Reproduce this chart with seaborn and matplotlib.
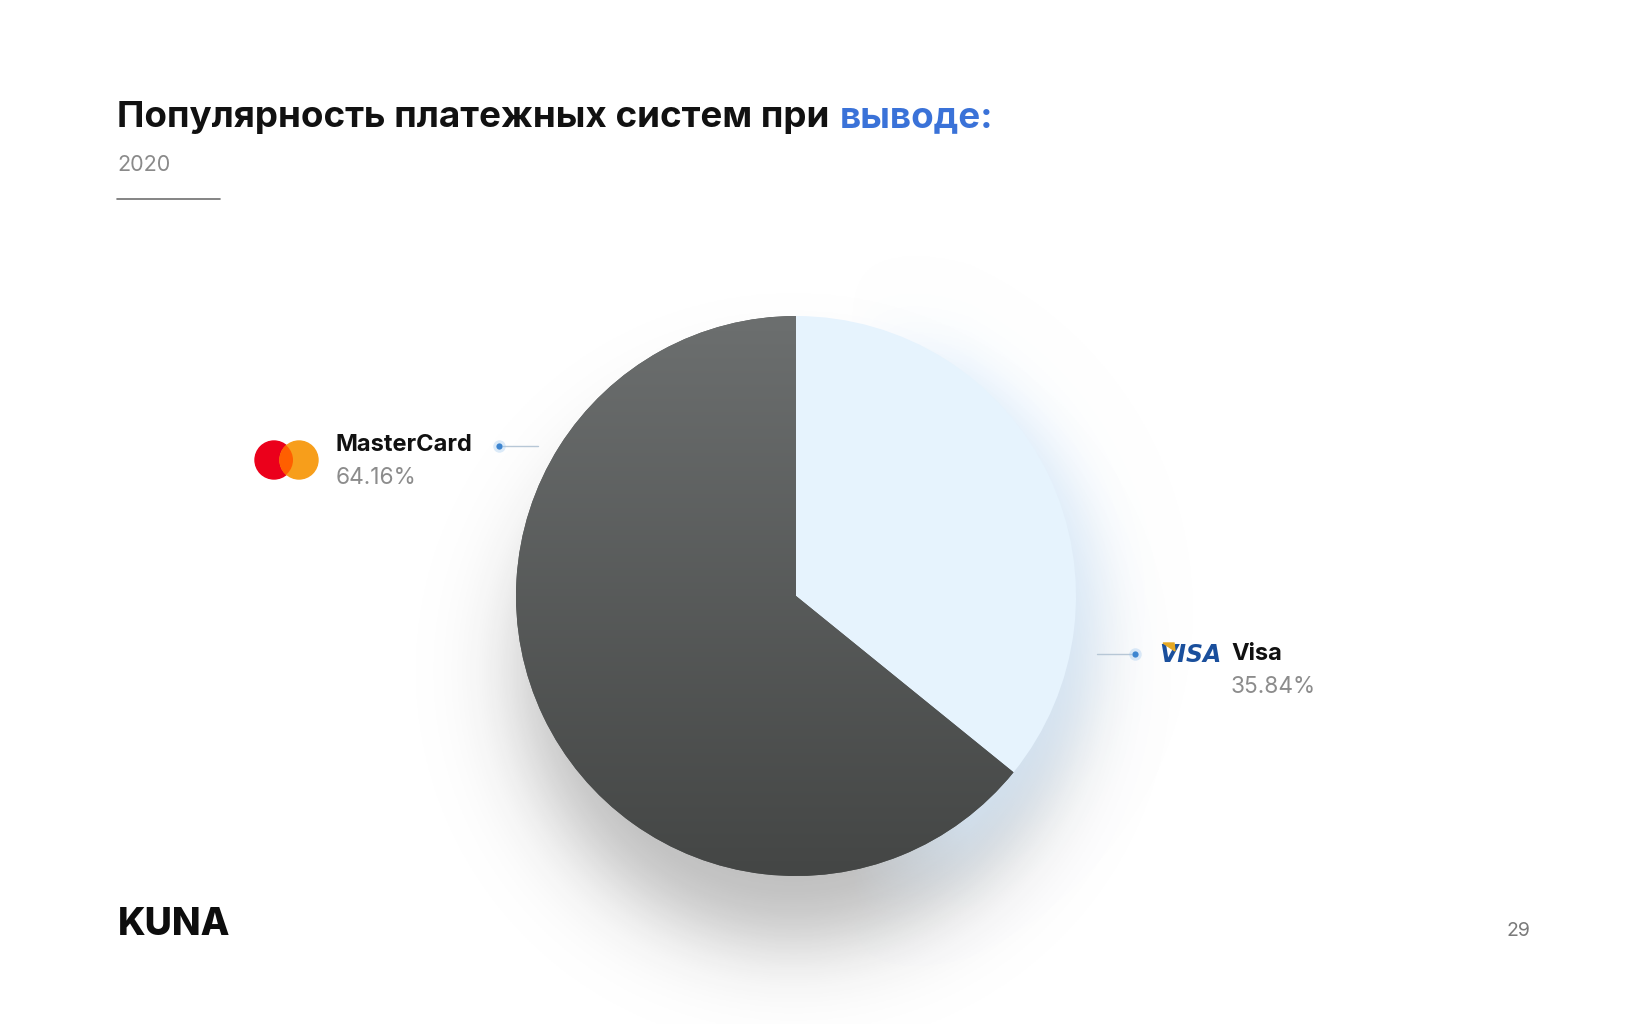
import numpy as np
import matplotlib
matplotlib.use("Agg")
import matplotlib.pyplot as plt
import seaborn as sns
from matplotlib.colors import LinearSegmentedColormap
from matplotlib.patches import Circle, Polygon

# data
labels = ["Visa", "MasterCard"]
shares = [35.84, 64.16]
slice_colors = ["#e6f3fd", "#5a5d5c"]
title_main = "Популярность платежных систем при"
title_accent = "выводе:"
year = "2020"
brand = "KUNA"
page = "29"

W, H = 1631, 1024
sns.set_theme(style="white")
plt.rcParams['font.family'] = ['Inter', 'DejaVu Sans']

fig = plt.figure(figsize=(W / 100, H / 100), dpi=100)
ax = fig.add_axes([0, 0, 1, 1])


def Y(y):
    return H - y


cx, cy, R = 796, Y(596), 280

# soft shadow + blue glow behind the pie
step = 2
gx, gy = np.meshgrid(np.arange(0, W, step), np.arange(0, H, step))
d = np.hypot(gx - 793, gy - 670)
a = 0.30 / (1 + np.exp((d - 270) / 25))
shadow = np.zeros(gx.shape + (4,))
shadow[..., :3] = 0.12
shadow[..., 3] = a
ax.imshow(shadow, extent=(0, W, 0, H), aspect='auto', zorder=0)

d2 = np.hypot(gx - 812, gy - 610)
b = 0.85 / (1 + np.exp((d2 - 284) / 18)) * np.clip((gx - 850) / 120, 0, 1)
glow = np.zeros(gx.shape + (4,))
glow[..., 0], glow[..., 1], glow[..., 2] = 0.84, 0.92, 0.995
glow[..., 3] = b
ax.imshow(glow, extent=(0, W, 0, H), aspect='auto', zorder=1)

wedges, _ = ax.pie(shares, startangle=90, counterclock=False,
                   colors=slice_colors, center=(cx, cy), radius=R,
                   wedgeprops=dict(linewidth=0))
for w in wedges:
    w.set_zorder(2)

# gradient on the dark slice
cmap = LinearSegmentedColormap.from_list("g", ["#6c6f6f", "#444645"])
grad = np.linspace(0, 1, 256).reshape(-1, 1)
im = ax.imshow(grad, extent=(cx - R, cx + R, cy - R, cy + R), cmap=cmap,
               aspect='auto', zorder=3)
im.set_clip_path(wedges[1])

ax.set_xlim(0, W)
ax.set_ylim(0, H)
ax.axis('off')

# title
t1 = ax.text(117, Y(127), title_main, fontsize=26.5, fontweight='bold',
             color='#111111', va='baseline')
fig.canvas.draw()
bb = t1.get_window_extent()
x_acc = ax.transData.inverted().transform((bb.x1, 0))[0]
ax.text(x_acc + 10, Y(127), title_accent, fontsize=26.5, fontweight='bold',
        color='#3a72d8', va='baseline')
ax.text(117, Y(165), year, fontsize=15.5, color='#8a8a8a', va='center')
ax.plot([117, 220], [Y(199), Y(199)], color='#707070', lw=1.2)

# labels
lab_pos = {"MasterCard": (336, 445), "Visa": (1231, 654)}
for name, s in zip(labels, shares):
    x, y = lab_pos[name]
    ax.text(x, Y(y), name, fontsize=17, fontweight='bold', color='#111111',
            va='center')
    ax.text(x, Y(y + 33), f"{s:.2f}%", fontsize=16.3, color='#8c8c8c',
            va='center')

# leader lines and dots
ax.plot([503, 538], [Y(446), Y(446)], color='#b7c7d6', lw=1, zorder=5)
ax.plot([1097, 1131], [Y(654), Y(654)], color='#b7c7d6', lw=1, zorder=5)
for px, py in [(499, 446), (1135, 654)]:
    ax.plot(px, Y(py), 'o', ms=9, color='#9cc6ee', alpha=0.35, mec='none', zorder=6)
    ax.plot(px, Y(py), 'o', ms=4.5, color='#3d85d0', mec='none', zorder=7)

# mastercard logo
red = Circle((274, Y(460)), 19, color='#eb001b', zorder=5)
org = Circle((299, Y(460)), 19, color='#f79e1b', zorder=5)
mid = Circle((299, Y(460)), 19, color='#ff5f00', zorder=6)
ax.add_patch(red)
ax.add_patch(org)
ax.add_patch(mid)
mid.set_clip_path(red)

# visa logo
ax.text(1159, Y(655), "VISA", fontsize=17, fontstyle='italic', fontweight='heavy',
        color='#1a4f9c', va='center', family=['DejaVu Sans'])
ax.add_patch(Polygon([(1163, Y(643)), (1174, Y(643)), (1175, Y(651))],
                     closed=True, color='#e5a823', zorder=6))

# footer
ax.text(118, Y(925), brand, fontsize=27, fontweight='heavy', color='#0d0d0d',
        va='center')
ax.text(1518, Y(931), page, fontsize=14, color='#7a7a7a', ha='center', va='center')

fig.savefig("out.png", dpi=100, facecolor='white')
